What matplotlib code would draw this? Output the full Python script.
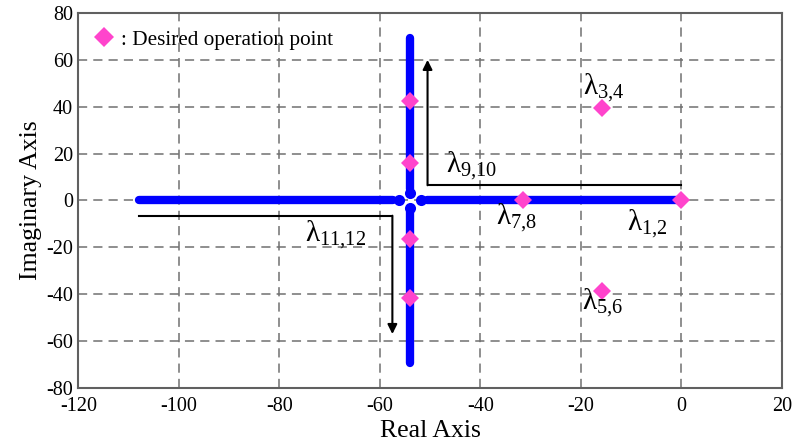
import matplotlib.pyplot as plt
from matplotlib.lines import Line2D

plt.rcParams['font.family'] = ['Liberation Serif', 'DejaVu Serif']
plt.rcParams['mathtext.fontset'] = 'custom'
plt.rcParams['mathtext.rm'] = 'Liberation Serif'
plt.rcParams['axes.unicode_minus'] = False

# root locus branches (real axis and vertical branch at -54)
horiz_left_x = [-108, -57.3]
horiz_right_x = [-50.7, 0]
center_dots_x = [-56.2, -51.8]
vert_x = -54
vert_top_y = [4.8, 69.5]
vert_bot_y = [-4.8, -69.5]
center_dots_y = [3.2, -3.2]

# desired operation points
op_x = [0, -31.5, -15.8, -15.8, -54, -54, -54, -54]
op_y = [0, 0, 39.5, -38.7, 42.5, 16, -16.4, -41.5]

# eigenvalue labels
lam_labels = ['3,4', '9,10', '7,8', '1,2', '11,12', '5,6']
lam_x = [-19.5, -46.8, -36.8, -10.8, -74.8, -19.8]
lam_y = [48, 14.5, -7.5, -10, -15, -44]

# arrow paths
arr1_x = [0, -50.5, -50.5]
arr1_y = [6.5, 6.5, 60]
arr2_x = [-108, -57.5, -57.5]
arr2_y = [-6.5, -6.5, -57]

fig, ax = plt.subplots(figsize=(7.92, 4.48), dpi=100)
fig.subplots_adjust(left=0.099, right=0.987, top=0.971, bottom=0.134)

blue = '#0000ff'
pink = '#ff44cc'
ax.plot(horiz_left_x, [0, 0], color=blue, lw=6, solid_capstyle='round', zorder=3)
ax.plot(horiz_right_x, [0, 0], color=blue, lw=6, solid_capstyle='round', zorder=3)
ax.plot([vert_x, vert_x], vert_top_y, color=blue, lw=6, solid_capstyle='round', zorder=3)
ax.plot([vert_x, vert_x], vert_bot_y, color=blue, lw=6, solid_capstyle='round', zorder=3)
ax.plot(center_dots_x, [0, 0], 'o', color=blue, ms=8, mew=0, zorder=3)
ax.plot([vert_x, vert_x], center_dots_y, 'o', color=blue, ms=8, mew=0, zorder=3)

ax.plot(op_x, op_y, 'D', color=pink, ms=9, mew=0, zorder=5)

# arrows
ax.plot(arr1_x[:2], arr1_y[:2], color='black', lw=1.5, zorder=4)
ax.annotate('', xy=(arr1_x[2], arr1_y[2]), xytext=(arr1_x[1], arr1_y[1]),
            arrowprops=dict(arrowstyle='-|>', color='black', lw=1.5,
                            mutation_scale=14, shrinkA=0, shrinkB=0), zorder=4)
ax.plot(arr2_x[:2], arr2_y[:2], color='black', lw=1.5, zorder=4)
ax.annotate('', xy=(arr2_x[2], arr2_y[2]), xytext=(arr2_x[1], arr2_y[1]),
            arrowprops=dict(arrowstyle='-|>', color='black', lw=1.5,
                            mutation_scale=14, shrinkA=0, shrinkB=0), zorder=4)

for lab, x, y in zip(lam_labels, lam_x, lam_y):
    sub = lab.replace(',', '{,}')
    ax.text(x, y, 'λ$_{\\mathregular{' + sub + '}}$', fontsize=21,
            ha='left', va='center', zorder=6)

ax.set_xlim(-120, 20)
ax.set_ylim(-80, 80)
ax.set_xticks(range(-120, 21, 20))
ax.set_yticks(range(-80, 81, 20))
ax.tick_params(length=0, labelsize=14.5)
ax.tick_params(axis='x', pad=6.5)
ax.tick_params(axis='y', pad=4)
ax.grid(True, color='#707070', ls=(0, (6, 4)), lw=1.1)
for s in ax.spines.values():
    s.set_color('#606060')
    s.set_linewidth(1.5)

ax.set_xlabel('Real Axis', fontsize=18.5, labelpad=3)
ax.set_ylabel('Imaginary Axis', fontsize=18.5, labelpad=3)

handle = Line2D([], [], marker='D', color=pink, ls='none', ms=10, mew=0)
leg = ax.legend([handle], [': Desired operation point'], loc='upper left',
                frameon=False, fontsize=15.3, handlelength=0.8,
                handletextpad=0.4, borderaxespad=0.5, borderpad=0.3)
leg.set_zorder(7)

plt.savefig('out.png')
